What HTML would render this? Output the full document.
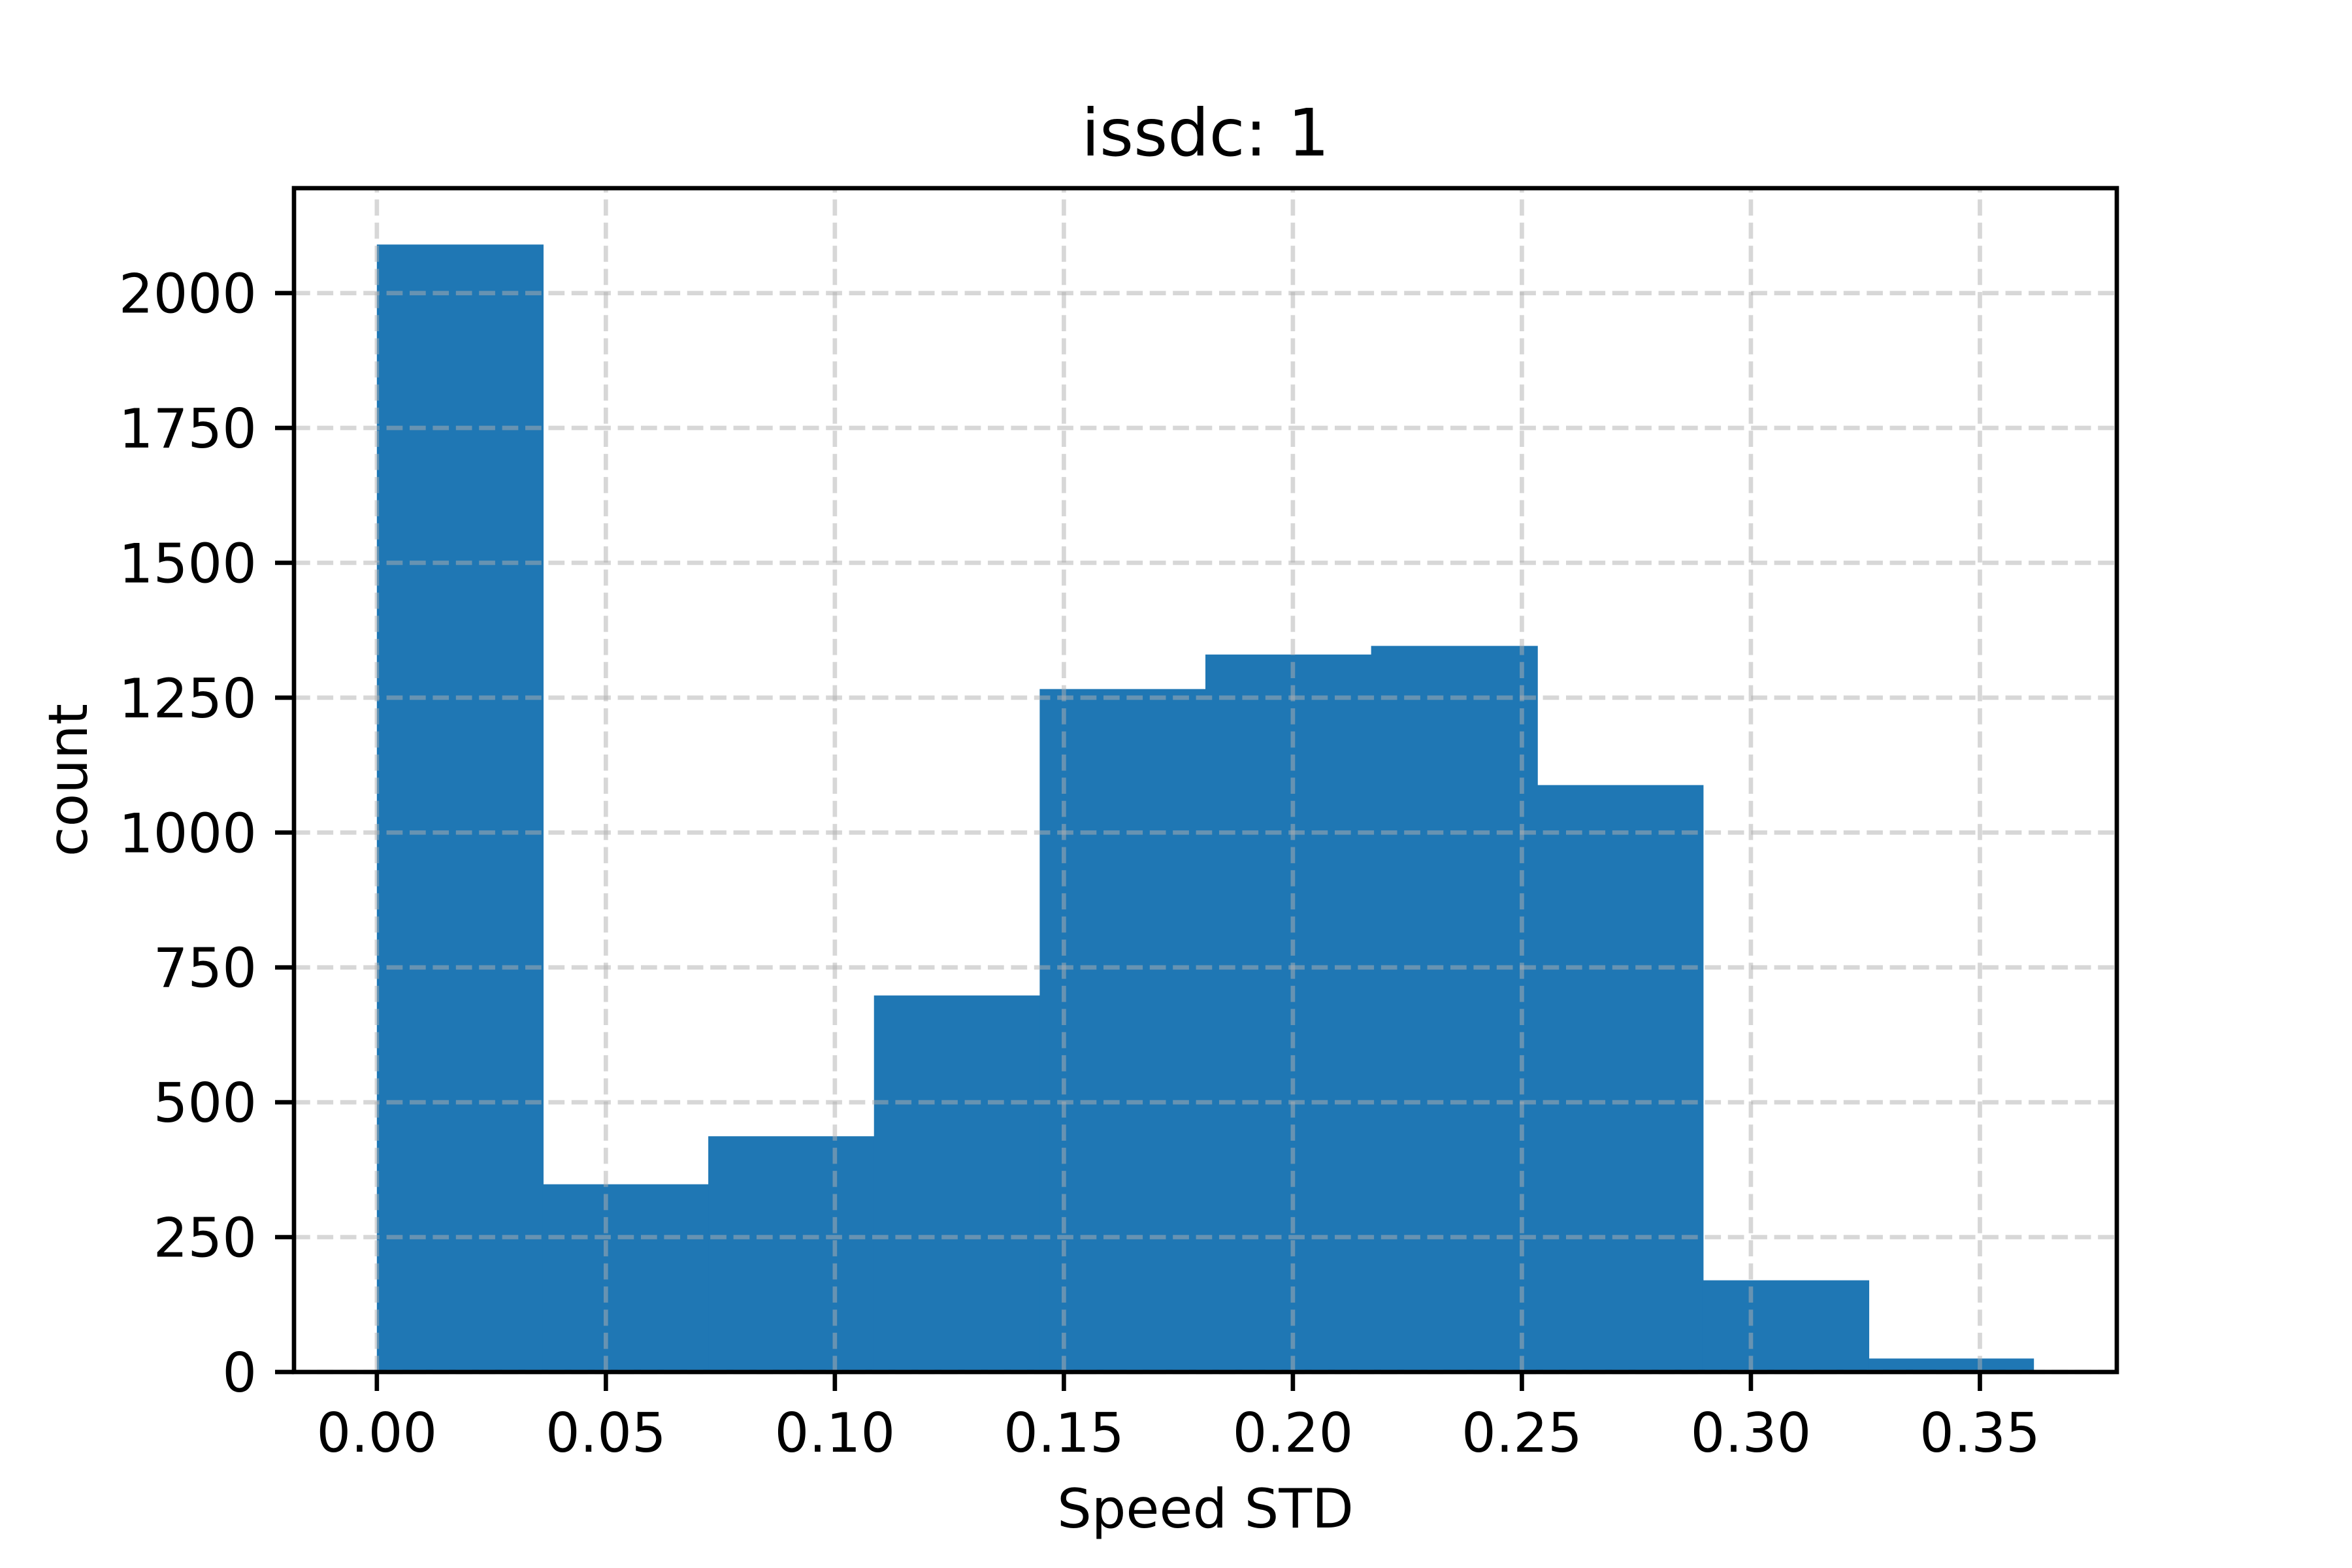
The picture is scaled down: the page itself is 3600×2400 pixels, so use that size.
<!DOCTYPE html>
<html><head><meta charset="utf-8"><style>
html,body{margin:0;padding:0;background:#fff;}
svg{display:block;}
text{font-family:"DejaVu Sans","Liberation Sans",sans-serif;fill:#000;}
</style></head><body>
<svg id="chart" width="3600" height="2400" viewBox="0 0 3600 2400" xmlns="http://www.w3.org/2000/svg">
<rect x="0" y="0" width="3600" height="2400" fill="#fff"/>
<g id="bars"></g>
<g id="grid"></g>
<g id="axes"></g>
<text x="1845" y="238" font-size="100" text-anchor="middle">issdc: 1</text>
<text x="1845" y="2338" font-size="83" text-anchor="middle">Speed STD</text>
<text transform="translate(133,1194) rotate(-90)" font-size="83" text-anchor="middle">count</text>
</svg>
<script>
const binEdgesStart = 0.0;
const binWidth = 0.03618;
const counts = [2090, 348, 437, 698, 1266, 1330, 1346, 1088, 170, 25];
const xTicks = [0, 0.05, 0.10, 0.15, 0.20, 0.25, 0.30, 0.35];
const xTickLabels = ["0.00","0.05","0.10","0.15","0.20","0.25","0.30","0.35"];
const yTicks = [0, 250, 500, 750, 1000, 1250, 1500, 1750, 2000];
const yTickLabels = ["0","250","500","750","1000","1250","1500","1750","2000"];

const NS = "http://www.w3.org/2000/svg";
const L = 450, R = 3240, T = 288, B = 2100;
const xMaxData = binEdgesStart + binWidth * counts.length;
const xPad = (xMaxData - binEdgesStart) * 0.05;
const xMin = binEdgesStart - xPad, xMax = xMaxData + xPad;
const yMax = Math.max(...counts) * 1.05;
function xs(v){ return L + (v - xMin) / (xMax - xMin) * (R - L); }
function ys(v){ return B - v / yMax * (B - T); }
function mk(tag, attrs, parent){
  const e = document.createElementNS(NS, tag);
  for (const k in attrs) e.setAttribute(k, attrs[k]);
  parent.appendChild(e); return e;
}
const bars = document.getElementById('bars');
counts.forEach((c, i) => {
  const x0 = xs(binEdgesStart + i * binWidth), x1 = xs(binEdgesStart + (i + 1) * binWidth);
  const extra = i < counts.length - 1 ? 1.5 : 0;
  const r = mk('rect', {x: x0, y: ys(c), width: x1 - x0 + extra, height: ys(0) - ys(c), fill: '#1f77b4'}, bars);
  
  
});
const grid = document.getElementById('grid');
const gstyle = {stroke: '#b0b0b0', 'stroke-opacity': 0.5, 'stroke-width': 6.7, 'stroke-dasharray': '24.7 10.7'};
xTicks.forEach((t, i) => {
  const l = mk('line', Object.assign({x1: xs(t), x2: xs(t), y1: B, y2: T}, gstyle), grid);
  
  
});
yTicks.forEach((t, i) => {
  const l = mk('line', Object.assign({x1: L, x2: R, y1: ys(t), y2: ys(t)}, gstyle), grid);
  
  
});
const axes = document.getElementById('axes');
const frame = mk('rect', {x: L, y: T, width: R - L, height: B - T, fill: 'none', stroke: '#000', 'stroke-width': 6.7}, axes);


xTicks.forEach((t, i) => {
  const tk = mk('line', {x1: xs(t), x2: xs(t), y1: B, y2: B + 29, stroke: '#000', 'stroke-width': 6.7}, axes);
  
  
  const tx = mk('text', {x: xs(t), y: B + 122, 'font-size': 83, 'text-anchor': 'middle'}, axes);
  tx.textContent = xTickLabels[i];
  
  
});
yTicks.forEach((t, i) => {
  const tk = mk('line', {x1: L - 29, x2: L, y1: ys(t), y2: ys(t), stroke: '#000', 'stroke-width': 6.7}, axes);
  
  
  const tx = mk('text', {x: L - 57, y: ys(t) + 30, 'font-size': 83, 'text-anchor': 'end'}, axes);
  tx.textContent = yTickLabels[i];
  
  
});
</script>
</body></html>
